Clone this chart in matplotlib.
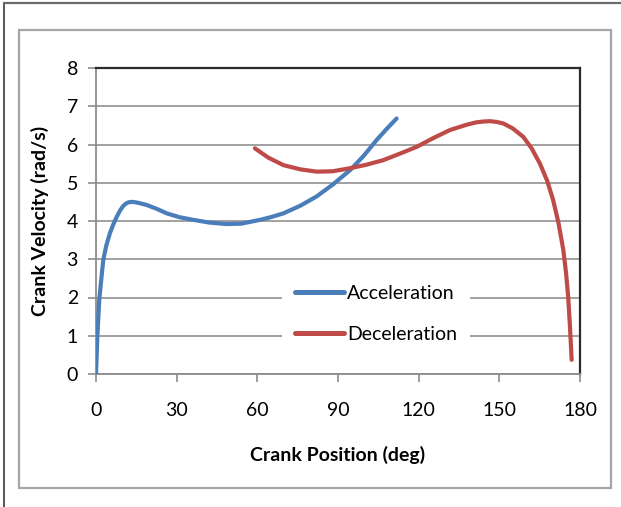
import matplotlib
matplotlib.use("Agg")
import matplotlib.pyplot as plt
from matplotlib.lines import Line2D
from matplotlib.patches import Rectangle

# Crank velocity profiles (deg, rad/s)
accel_pos = [0, 0.5, 1.2, 2.0, 2.7, 3.8, 5.2, 6.5, 7.7, 9.0, 10.2, 11.2, 12.2, 13.3, 14.6, 16.0,
             18.8, 22.5, 26.3, 31.0, 36.2, 42.0, 48.6, 54.0, 61.0, 65.0, 69.7, 76.0,
             82.0, 88.0, 94.5, 99.5, 104.4, 108.0, 111.8]
accel_vel = [0.0, 0.98, 1.93, 2.5, 2.98, 3.35, 3.69, 3.92, 4.11, 4.28, 4.4, 4.46, 4.49, 4.5, 4.49, 4.47,
             4.42, 4.32, 4.2, 4.1, 4.03, 3.96, 3.92, 3.93, 4.03, 4.1, 4.2, 4.4,
             4.64, 4.95, 5.33, 5.7, 6.12, 6.4, 6.68]

decel_pos = [59.1, 64.0, 69.7, 76.0, 82.1, 88.0, 94.5, 100.5, 106.8, 113.0, 119.3, 125.5,
             131.7, 138.0, 141.5, 144.0, 146.5, 149.0, 151.5, 155.0, 158.9, 162.0, 165.1,
             167.8, 170.0, 172.0, 173.8, 174.8, 175.6, 176.3, 176.9]
decel_vel = [5.9, 5.66, 5.46, 5.35, 5.29, 5.3, 5.38, 5.47, 5.59, 5.76, 5.94, 6.17,
             6.38, 6.52, 6.58, 6.6, 6.61, 6.59, 6.55, 6.42, 6.2, 5.9, 5.5,
             5.05, 4.55, 3.95, 3.24, 2.65, 2.02, 1.2, 0.37]

series_names = ["Acceleration", "Deceleration"]
x_ticks = [0, 30, 60, 90, 120, 150, 180]
y_ticks = [0, 1, 2, 3, 4, 5, 6, 7, 8]

BLUE = "#4A7EBB"
RED = "#BE4B48"
FONT = "Lato"

W, H = 621, 507
fig = plt.figure(figsize=(W / 100, H / 100), dpi=100)

def fx(px):
    return px / W

def fy(py):
    return 1 - py / H

# Outer window lines and chart-area frame
fig.add_artist(Line2D([fx(4), fx(4)], [0, fy(3)], color="#3a3a3a", lw=1.2))
fig.add_artist(Line2D([fx(4), 1], [fy(3), fy(3)], color="#6a6a6a", lw=1.6))
fig.add_artist(Rectangle((fx(19), fy(488)), fx(611) - fx(19), fy(30) - fy(488),
                         transform=fig.transFigure, fill=False,
                         edgecolor="#a6a6a6", lw=1.6))

ax = fig.add_axes([fx(96), fy(374), fx(580) - fx(96), fy(68) - fy(374)])
ax.set_xlim(0, 180)
ax.set_ylim(0, 8)
ax.set_xticks(x_ticks)
ax.set_yticks(y_ticks)
ax.set_xticklabels([str(t) for t in x_ticks], fontfamily=FONT, fontsize=14)
ax.set_yticklabels([str(t) for t in y_ticks], fontfamily=FONT, fontsize=14)
ax.tick_params(axis="y", length=6, width=1.2, color="#8c8c8c", pad=7)
ax.tick_params(axis="x", length=5.5, width=1.2, color="#8c8c8c", pad=15)

ax.yaxis.grid(True, color="#9a9a9a", lw=1.3)
ax.set_axisbelow(True)
for side in ("left", "bottom"):
    ax.spines[side].set_color("#8c8c8c")
    ax.spines[side].set_linewidth(1.3)
for side in ("top", "right"):
    ax.spines[side].set_color("#2b2b2b")
    ax.spines[side].set_linewidth(1.6)

ax.plot(accel_pos, accel_vel, color=BLUE, lw=3.0, solid_capstyle="round",
        solid_joinstyle="round", label=series_names[0], zorder=3)
ax.plot(decel_pos, decel_vel, color=RED, lw=3.0, solid_capstyle="round",
        solid_joinstyle="round", label=series_names[1], zorder=3)

ax.set_xlabel("Crank Position (deg)", fontfamily=FONT, fontsize=14,
              fontweight="bold", labelpad=19)
ax.set_ylabel("Crank Velocity (rad/s)", fontfamily=FONT, fontsize=14,
              fontweight="bold", labelpad=13)

leg = ax.legend(loc="center", bbox_to_anchor=(fx(376), fy(314)),
                bbox_transform=fig.transFigure, frameon=True, fancybox=False,
                facecolor="white", edgecolor="none", framealpha=1,
                prop={"family": FONT, "size": 14}, handlelength=2.5,
                handletextpad=0.15, labelspacing=1.25, borderpad=0.7,
                borderaxespad=0)
leg.set_zorder(4)
for h in leg.get_lines():
    h.set_linewidth(3.6)

fig.savefig("out.png", dpi=100)
